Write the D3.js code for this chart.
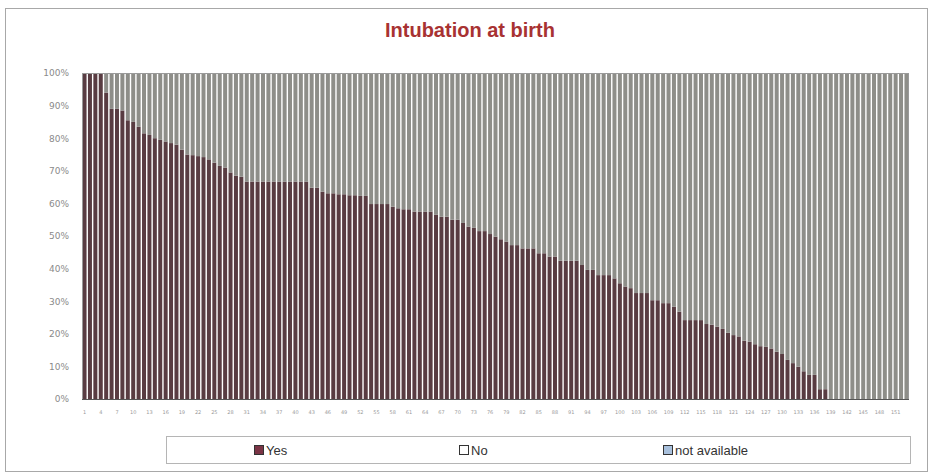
<!DOCTYPE html>
<html lang="en">
<head>
    <meta charset="UTF-8">
    <title>Intubation at birth</title>
    <script src="https://cdn.jsdelivr.net/npm/d3@7"></script>
    <style>
        body { margin: 0; background: #fff; }
        svg { display: block; }
        .ytick text { font-family: 'DejaVu Sans', sans-serif; font-size: 9px; fill: #8a8a8a; }
        .xtick text { font-family: 'DejaVu Sans', sans-serif; font-size: 5px; fill: #9a9a9a; }
        .legend text { font-family: 'Liberation Sans', Arial, sans-serif; font-size: 13px; fill: #333; }
    </style>
</head>
<body>
<div id="chart"></div>
<script>
    // one category per unit, 153 of them
    const categories = d3.range(1, 154).map(String);

    // share of "Yes" per unit, %
    const yesValues = [
        100, 100, 100, 100, 94, 89, 89, 88.5, 85.5, 85,
        83.5, 81.5, 81, 80, 79.5, 79, 78.5, 78, 76.5, 75,
        74.8, 74.5, 74.2, 73.5, 72.5, 71.5, 71, 69.5, 68.5, 68.2,
        66.7, 66.7, 66.7, 66.7, 66.7, 66.7, 66.7, 66.7, 66.7, 66.7,
        66.7, 66.7, 64.8, 64.8, 63.6, 63.1, 63.1, 62.8, 62.8, 62.5,
        62.5, 62.3, 62.3, 59.8, 59.8, 59.8, 59.8, 59, 58.5, 58.2,
        58.2, 57.5, 57.5, 57.5, 57.5, 56.5, 55.9, 55.9, 55, 55,
        54, 52.9, 52.5, 51.5, 51.5, 50.6, 49.8, 49, 48.3, 47.2,
        47.2, 46.2, 46.2, 46.2, 44.7, 44.7, 43.7, 43.7, 42.4, 42.4,
        42.4, 42.4, 41.1, 39.6, 39.6, 38, 38, 38, 37, 35.5,
        34.5, 34, 32.5, 32.5, 32.5, 30.3, 30.3, 29.4, 29.4, 28.3,
        26.8, 24.2, 24.2, 24.2, 24.2, 23, 22.8, 22.2, 21.5, 20.3,
        19.6, 19.2, 17.9, 17.6, 16.8, 16.2, 16, 15.5, 14.5, 13.8,
        12, 11, 9.9, 8.5, 7.4, 7.4, 3, 3, 0, 0,
        0, 0, 0, 0, 0, 0, 0, 0, 0, 0,
        0, 0, 0
    ];

    // share of "No" per unit, %
    const noValues = [
        0, 0, 0, 0, 6, 11, 11, 11.5, 14.5, 15,
        16.5, 18.5, 19, 20, 20.5, 21, 21.5, 22, 23.5, 25,
        25.2, 25.5, 25.8, 26.5, 27.5, 28.5, 29, 30.5, 31.5, 31.8,
        33.3, 33.3, 33.3, 33.3, 33.3, 33.3, 33.3, 33.3, 33.3, 33.3,
        33.3, 33.3, 35.2, 35.2, 36.4, 36.9, 36.9, 37.2, 37.2, 37.5,
        37.5, 37.7, 37.7, 40.2, 40.2, 40.2, 40.2, 41, 41.5, 41.8,
        41.8, 42.5, 42.5, 42.5, 42.5, 43.5, 44.1, 44.1, 45, 45,
        46, 47.1, 47.5, 48.5, 48.5, 49.4, 50.2, 51, 51.7, 52.8,
        52.8, 53.8, 53.8, 53.8, 55.3, 55.3, 56.3, 56.3, 57.6, 57.6,
        57.6, 57.6, 58.9, 60.4, 60.4, 62, 62, 62, 63, 64.5,
        65.5, 66, 67.5, 67.5, 67.5, 69.7, 69.7, 70.6, 70.6, 71.7,
        73.2, 75.8, 75.8, 75.8, 75.8, 77, 77.2, 77.8, 78.5, 79.7,
        80.4, 80.8, 82.1, 82.4, 83.2, 83.8, 84, 84.5, 85.5, 86.2,
        88, 89, 90.1, 91.5, 92.6, 92.6, 97, 97, 100, 100,
        100, 100, 100, 100, 100, 100, 100, 100, 100, 100,
        100, 100, 100
    ];

    // "not available" - none in this chart
    const naValues = [
        0, 0, 0, 0, 0, 0, 0, 0, 0, 0, 0, 0, 0, 0, 0, 0, 0, 0, 0, 0,
        0, 0, 0, 0, 0, 0, 0, 0, 0, 0, 0, 0, 0, 0, 0, 0, 0, 0, 0, 0,
        0, 0, 0, 0, 0, 0, 0, 0, 0, 0, 0, 0, 0, 0, 0, 0, 0, 0, 0, 0,
        0, 0, 0, 0, 0, 0, 0, 0, 0, 0, 0, 0, 0, 0, 0, 0, 0, 0, 0, 0,
        0, 0, 0, 0, 0, 0, 0, 0, 0, 0, 0, 0, 0, 0, 0, 0, 0, 0, 0, 0,
        0, 0, 0, 0, 0, 0, 0, 0, 0, 0, 0, 0, 0, 0, 0, 0, 0, 0, 0, 0,
        0, 0, 0, 0, 0, 0, 0, 0, 0, 0, 0, 0, 0, 0, 0, 0, 0, 0, 0, 0,
        0, 0, 0, 0, 0, 0, 0, 0, 0, 0, 0, 0, 0
    ];

    const yTicks = [0, 10, 20, 30, 40, 50, 60, 70, 80, 90, 100];
    const seriesNames = ['Yes', 'No', 'not available'];

    const width = 934, height = 475;
    const margin = { top: 73, right: 25, bottom: 76, left: 82 };

    const svg = d3.select('#chart').append('svg')
        .attr('width', width)
        .attr('height', height);

    // outer frame
    svg.append('rect')
        .attr('x', 5.5).attr('y', 8.5)
        .attr('width', 922).attr('height', 463)
        .attr('fill', 'none')
        .attr('stroke', '#a8a8a8');

    svg.append('text')
        .attr('x', 470).attr('y', 37)
        .attr('text-anchor', 'middle')
        .attr('font-family', "'Liberation Sans', Arial, sans-serif")
        .attr('font-weight', 'bold')
        .attr('font-size', 20)
        .attr('fill', '#a83232')
        .text('Intubation at birth');

    const rows = categories.map((c, i) => ({ cat: c, yes: yesValues[i], no: noValues[i], na: naValues[i] }));

    const x = d3.scaleBand()
        .domain(categories)
        .range([margin.left, width - margin.right])
        .paddingInner(0.26)
        .paddingOuter(0.1);

    const y = d3.scaleLinear()
        .domain([0, 100])
        .range([height - margin.bottom, margin.top]);

    const colors = { yes: '#593c42', no: '#8e8e89', na: '#a8c0dc' };

    const stacked = d3.stack().keys(['yes', 'no', 'na'])(rows);

    svg.append('g')
        .selectAll('g')
        .data(stacked)
        .join('g')
        .attr('fill', d => colors[d.key])
        .selectAll('rect')
        .data(d => d)
        .join('rect')
        .attr('x', d => x(d.data.cat))
        .attr('y', d => y(d[1]))
        .attr('width', x.bandwidth())
        .attr('height', d => y(d[0]) - y(d[1]));

    // plot border
    svg.append('rect')
        .attr('x', margin.left + 0.5).attr('y', y(100) + 0.5)
        .attr('width', width - margin.right - margin.left - 1)
        .attr('height', y(0) - y(100))
        .attr('fill', 'none')
        .attr('stroke', '#9a9a9a');

    svg.append('line')
        .attr('x1', margin.left).attr('x2', width - margin.right)
        .attr('y1', y(0) + 0.5).attr('y2', y(0) + 0.5)
        .attr('stroke', '#555');

    const yAxis = svg.append('g')
        .attr('class', 'ytick')
        .attr('transform', `translate(${margin.left - 10},0)`)
        .call(d3.axisLeft(y).tickValues(yTicks).tickSize(0).tickFormat(d => d + '%'));
    yAxis.select('.domain').remove();

    const xAxis = svg.append('g')
        .attr('class', 'xtick')
        .attr('transform', `translate(0,${y(0) + 8})`)
        .call(d3.axisBottom(x)
            .tickValues(categories.filter((c, i) => i % 3 === 0))
            .tickSize(0));
    xAxis.select('.domain').remove();

    // legend
    const legend = svg.append('g').attr('class', 'legend');
    legend.append('rect')
        .attr('x', 166.5).attr('y', 436.5)
        .attr('width', 744).attr('height', 27)
        .attr('fill', 'none')
        .attr('stroke', '#b5b5b5');

    const legendX = [254, 459, 663];
    const swatch = ['#7a3445', '#ffffff', '#a8c0dc'];
    seriesNames.forEach((name, i) => {
        legend.append('rect')
            .attr('x', legendX[i] + 0.5).attr('y', 445.5)
            .attr('width', 9).attr('height', 9)
            .attr('fill', swatch[i])
            .attr('stroke', '#333');
        legend.append('text')
            .attr('x', legendX[i] + 12).attr('y', 455)
            .text(name);
    });
</script>
</body>
</html>
